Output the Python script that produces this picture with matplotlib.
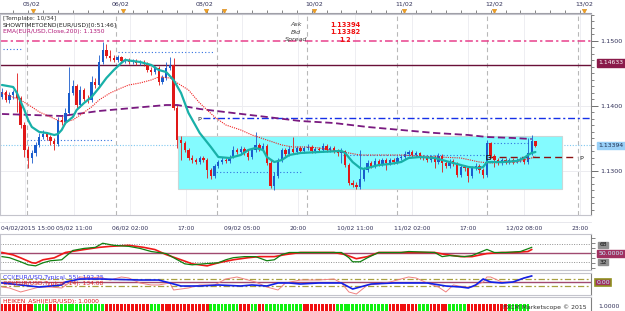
import numpy as np
import matplotlib
matplotlib.use("Agg")
import matplotlib.pyplot as plt
from matplotlib.patches import Rectangle

W, H = 625, 311

# ---- price candles (hourly EUR/USD) ----
first_open = 1.14138
closes = [1.14215, 1.14092, 1.14169, 1.14215, 1.14123, 1.13708, 1.13323, 1.13200, 1.13277, 1.13400,
          1.13523, 1.13569, 1.13523, 1.13462, 1.13415, 1.13785, 1.13754, 1.13892, 1.14200, 1.14308,
          1.14015, 1.14246, 1.14108, 1.14092, 1.14369, 1.14323, 1.14677, 1.14862, 1.14769, 1.14738,
          1.14708, 1.14754, 1.14692, 1.14708, 1.14677, 1.14692, 1.14662, 1.14677, 1.14646, 1.14554,
          1.14523, 1.14585, 1.14369, 1.14431, 1.14585, 1.14631, 1.13969, 1.13477, 1.13431, 1.13323,
          1.13200, 1.13169, 1.13138, 1.13200, 1.13169, 1.13015, 1.12923, 1.13077, 1.13138, 1.13169,
          1.13154, 1.13215, 1.13323, 1.13292, 1.13338, 1.13277, 1.13215, 1.13323, 1.13400, 1.13338,
          1.13385, 1.13123, 1.12769, 1.12923, 1.13169, 1.13323, 1.13262, 1.13338, 1.13292, 1.13354,
          1.13308, 1.13354, 1.13369, 1.13308, 1.13338, 1.13323, 1.13385, 1.13323, 1.13354, 1.13308,
          1.13277, 1.13308, 1.13092, 1.12815, 1.12785, 1.12754, 1.12877, 1.13015, 1.13123, 1.13077,
          1.13154, 1.13108, 1.13169, 1.13123, 1.13169, 1.13138, 1.13200, 1.13215, 1.13262, 1.13292,
          1.13246, 1.13277, 1.13215, 1.13200, 1.13169, 1.13215, 1.13138, 1.13231, 1.13123, 1.13077,
          1.13154, 1.13108, 1.12938, 1.13062, 1.13046, 1.12923, 1.13046, 1.13077, 1.13015, 1.12938,
          1.13431, 1.13231, 1.13169, 1.13123, 1.13169, 1.13138, 1.13169, 1.13138, 1.13169, 1.13185,
          1.13138, 1.13277, 1.13462, 1.13392]
highs = [1.14277, 1.14246, 1.14215, 1.14246, 1.14508, 1.14154, 1.13754, 1.13385, 1.13323, 1.13446,
         1.13585, 1.13631, 1.13600, 1.13554, 1.13508, 1.13831, 1.13846, 1.13969, 1.14600, 1.14400,
         1.14338, 1.14308, 1.14277, 1.14169, 1.14462, 1.14431, 1.14785, 1.14985, 1.14954, 1.14862,
         1.14785, 1.14785, 1.14769, 1.14738, 1.14738, 1.14723, 1.14723, 1.14708, 1.14708, 1.14677,
         1.14600, 1.14615, 1.14615, 1.14477, 1.14677, 1.14754, 1.14738, 1.14015, 1.13538, 1.13462,
         1.13354, 1.13246, 1.13200, 1.13231, 1.13231, 1.13200, 1.13046, 1.13108, 1.13169, 1.13215,
         1.13200, 1.13246, 1.13385, 1.13354, 1.13385, 1.13369, 1.13323, 1.13354, 1.13600, 1.13431,
         1.13431, 1.13415, 1.13169, 1.12985, 1.13200, 1.13354, 1.13354, 1.13385, 1.13523, 1.13385,
         1.13385, 1.13385, 1.13415, 1.13400, 1.13369, 1.13369, 1.13431, 1.13415, 1.13385, 1.13385,
         1.13338, 1.13354, 1.13323, 1.13123, 1.12862, 1.12831, 1.13323, 1.13062, 1.13169, 1.13154,
         1.13200, 1.13185, 1.13200, 1.13200, 1.13200, 1.13200, 1.13231, 1.13246, 1.13308, 1.13323,
         1.13323, 1.13308, 1.13292, 1.13246, 1.13231, 1.13246, 1.13246, 1.13277, 1.13262, 1.13154,
         1.13185, 1.13185, 1.13138, 1.13092, 1.13092, 1.13077, 1.13077, 1.13123, 1.13108, 1.13046,
         1.13477, 1.13446, 1.13262, 1.13200, 1.13200, 1.13200, 1.13200, 1.13200, 1.13200, 1.13215,
         1.13215, 1.13508, 1.13554, 1.13462]
lows = [1.14108, 1.14062, 1.14046, 1.14108, 1.13908, 1.13662, 1.13215, 1.13046, 1.13123, 1.13231,
        1.13369, 1.13492, 1.13477, 1.13400, 1.13323, 1.13385, 1.13708, 1.13723, 1.13862, 1.14169,
        1.13969, 1.13985, 1.14077, 1.14046, 1.14062, 1.14277, 1.14292, 1.14646, 1.14738, 1.14692,
        1.14677, 1.14677, 1.14662, 1.14662, 1.14646, 1.14646, 1.14631, 1.14631, 1.14615, 1.14523,
        1.14477, 1.14492, 1.14323, 1.14338, 1.14400, 1.14554, 1.13938, 1.13354, 1.13169, 1.13292,
        1.13169, 1.13123, 1.13108, 1.13108, 1.13138, 1.12892, 1.12877, 1.12892, 1.13046, 1.13108,
        1.13123, 1.13123, 1.13200, 1.13262, 1.13262, 1.13246, 1.13169, 1.13185, 1.13292, 1.13308,
        1.13308, 1.13092, 1.12738, 1.12708, 1.12892, 1.13138, 1.13231, 1.13231, 1.13262, 1.13262,
        1.13277, 1.13277, 1.13323, 1.13277, 1.13277, 1.13292, 1.13292, 1.13292, 1.13292, 1.13277,
        1.13231, 1.13123, 1.13062, 1.12785, 1.12754, 1.12723, 1.12723, 1.12846, 1.12985, 1.13046,
        1.13046, 1.13077, 1.13077, 1.13015, 1.13092, 1.13108, 1.13108, 1.13169, 1.13185, 1.13231,
        1.13215, 1.13215, 1.13185, 1.13169, 1.13138, 1.13138, 1.13046, 1.13108, 1.12985, 1.13046,
        1.13046, 1.13077, 1.12908, 1.12908, 1.13000, 1.12831, 1.12892, 1.13015, 1.12969, 1.12892,
        1.12908, 1.13200, 1.13062, 1.13092, 1.13092, 1.13108, 1.13108, 1.13108, 1.13123, 1.13138,
        1.13108, 1.13108, 1.13246, 1.13369]

# ---- moving averages (bar index, price) ----
teal_idx = [0, 3, 4, 6, 7, 8, 10, 12, 14, 15, 16, 17, 19, 20, 22, 24, 26, 28, 30, 32, 33, 37, 40, 42,
            44, 46, 48, 50, 53, 56, 58, 61, 64, 66, 68, 70, 71, 73, 75, 77, 80, 85, 91, 92, 94, 96, 97,
            99, 101, 104, 107, 109, 112, 116, 118, 121, 123, 125, 128, 129, 130, 134, 138, 140, 141,
            142, 143]
teal_val = [1.14323, 1.14292, 1.14200, 1.13938, 1.13785, 1.13677, 1.13600, 1.13585, 1.13554, 1.13569,
            1.13631, 1.13738, 1.13831, 1.13938, 1.14046, 1.14138, 1.14277, 1.14431, 1.14554, 1.14662,
            1.14708, 1.14677, 1.14631, 1.14554, 1.14523, 1.14400, 1.14200, 1.13892, 1.13585, 1.13369,
            1.13215, 1.13200, 1.13246, 1.13323, 1.13354, 1.13323, 1.13215, 1.13138, 1.13169, 1.13246,
            1.13277, 1.13292, 1.13308, 1.13277, 1.13138, 1.13046, 1.13031, 1.13062, 1.13092, 1.13108,
            1.13138, 1.13200, 1.13215, 1.13200, 1.13169, 1.13123, 1.13092, 1.13062, 1.13046, 1.13062,
            1.13138, 1.13138, 1.13154, 1.13200, 1.13246, 1.13277, 1.13292]
red_idx = [0, 5, 8, 10, 13, 16, 17, 19, 21, 24, 26, 29, 32, 34, 37, 40, 42, 45, 47, 50, 53, 57, 60,
           64, 67, 71, 75, 78, 82, 85, 91, 93, 96, 107, 112, 117, 123, 128, 131, 138, 142, 143]
red_val = [1.14200, 1.14092, 1.13985, 1.13908, 1.13831, 1.13754, 1.13754, 1.13785, 1.13862, 1.13985,
           1.14092, 1.14200, 1.14277, 1.14323, 1.14354, 1.14400, 1.14446, 1.14431, 1.14354, 1.14246,
           1.14046, 1.13831, 1.13708, 1.13631, 1.13554, 1.13477, 1.13400, 1.13369, 1.13369, 1.13354,
           1.13292, 1.13277, 1.13246, 1.13246, 1.13231, 1.13215, 1.13200, 1.13138, 1.13123, 1.13138,
           1.13200, 1.13231]
ema200_idx = [0, 16, 26, 35, 44, 47, 53, 62, 71, 80, 89, 98, 107, 116, 125, 130, 137, 142]
ema200_val = [1.13877, 1.13846, 1.13923, 1.13969, 1.14015, 1.14015, 1.13954, 1.13892, 1.13831, 1.13769,
              1.13738, 1.13677, 1.13631, 1.13585, 1.13554, 1.13523, 1.13508, 1.13492]

# ---- levels ----
level_pink = 1.1500
level_maroon = 1.14633
last_price = 1.13394
pivot_blue = 1.13815
pivot_blue_start = 54
pivot_red = 1.13215
pivot_red_span = (130.3, 154.2)
zone = (47.2, 150.0, 1.12723, 1.13538)  # start bar, end bar, low, high
dotted_levels = [(1.14877, 0.3, 5.6), (1.14831, 31.1, 56.6), (1.13477, 6.7, 29.8),
                 (1.12985, 56.6, 80.7), (1.13246, 91.4, 130.0), (1.13431, 130.0, 141.0)]
day_lines = [6.7, 30.6, 57.7, 81.8, 105.9, 130.1, 154.4]

top_labels = ['05/02', '06/02', '08/02', '10/02', '11/02', '12/02', '13/02']
top_label_pos = [7.8, 31.9, 54.4, 83.6, 107.8, 131.9, 156.0]
top_marks = [8.3, 32.4, 54.7, 59.5, 83.6, 107.8, 131.9, 156.0]
bottom_labels = ['04/02/2015 15:00', '05/02 11:00', '06/02 02:00', '17:00', '09/02 05:00', '20:00',
                 '10/02 11:00', '11/02 02:00', '17:00', '12/02 08:00', '23:00']
bottom_label_pos = [6.2, 19.3, 34.3, 49.3, 64.3, 79.4, 94.6, 109.9, 124.9, 139.9, 154.9]

# ---- oscillator panel ----
rsi_red_idx = [0, 3, 5, 8, 9, 11, 14, 17, 22, 26, 29, 34, 38, 41, 44, 48, 51, 55, 58, 62, 66, 69, 73,
               76, 80, 89, 92, 95, 98, 101, 107, 116, 119, 123, 126, 130, 134, 137, 141, 142]
rsi_red = [51, 46, 40, 30, 29, 36, 40, 51, 57, 61.5, 63.6, 65.7, 61.5, 57, 46.7, 36, 27.7, 23.5, 29.8,
           36, 40.3, 42.5, 42.5, 46.7, 51, 51, 46.7, 38.2, 42.5, 51, 51, 51, 46.7, 42.5, 42.5, 48.8, 51,
           51, 53, 57]
rsi_green_idx = [0, 2, 5, 7, 9, 11, 13, 16, 17, 19, 22, 25, 27, 30, 34, 37, 40, 44, 46, 49, 51, 54,
                 58, 60, 62, 65, 68, 71, 73, 75, 77, 80, 89, 91, 93, 94, 96, 98, 101, 107, 109, 116,
                 118, 120, 124, 126, 128, 130, 132, 135, 139, 142]
rsi_green = [42.5, 40.3, 31.9, 25.6, 23.5, 29.8, 34, 36, 42.5, 55.2, 59.4, 61.5, 70, 65.7, 63.6, 59.4,
             53, 48.8, 40.3, 27.7, 25.6, 27.7, 29.8, 36, 40.3, 42.5, 42.5, 34, 36, 46.7, 51, 51, 51,
             51, 40.3, 31.9, 31.9, 40.3, 51, 51, 53, 51, 42.5, 44.6, 42.5, 44.6, 51, 57.3, 51, 51, 53,
             61.5]

# ---- CCI panel ----
cci55_idx = [0, 5, 10, 16, 17, 21, 26, 37, 42, 45, 48, 53, 58, 64, 67, 71, 74, 77, 80, 85, 91, 93,
             94, 96, 99, 105, 109, 114, 119, 123, 125, 127, 129, 131, 134, 137, 140, 142]
cci55 = [-14, -71, -129, -71, 14, 100, 100, 71, 71, -14, -100, -100, -71, -100, -71, -100, -14, -14,
         -43, -14, -14, -129, -186, -129, -43, -14, -14, -14, -100, -129, -157, -71, 100, 14, -14, 14,
         129, 186]
cci14_idx = [0, 2, 5, 7, 10, 13, 16, 18, 21, 24, 26, 29, 32, 34, 37, 40, 42, 45, 46, 50, 53, 57, 60,
             63, 66, 68, 71, 74, 76, 80, 85, 89, 91, 93, 95, 96, 98, 101, 104, 107, 109, 111, 114,
             117, 119, 121, 124, 126, 129, 130, 131, 134, 137, 140, 142]
cci14 = [-129, -157, -271, -214, -129, -129, -157, -14, 157, 129, 157, 71, 157, 129, -14, -71, -71,
         -14, -214, -157, -71, -71, 100, 157, 71, 14, -129, -214, -14, 71, 71, 100, -14, -271, -329,
         -243, -71, -43, 14, 100, 157, 129, -14, -129, -271, -71, -129, -129, 14, 157, 157, 14, 14,
         129, 186]

# ---- Heiken Ashi colour per bar (G = up, R = down) ----
ha_colors = ("RRRRRRRRRGGGGRRGGGGGGGGGGGGGRRRRRRRRRRRRGGGRRRRRRRRRRRRRGGGGGGGGRRRGGRRGGGGGGGGG"
             "GRRRRRRRRRGGGGGGGGGGGGGGRRRRRRRRGGGRRRRRGGGGGRRRRRRRRRRRGGGGGG")

# ------------------------------------------------------------------
plt.rcParams['font.family'] = ['DejaVu Sans']
fig = plt.figure(figsize=(W / 100, H / 100), dpi=100)
fig.patch.set_facecolor('white')

XL = ((0 - 2) / 3.73, (591 - 2) / 3.73)
FRAME = '#c4c4cc'
AXTXT = '#303058'


def add_ax(x0, y0, x1, y1):
    a = fig.add_axes([x0 / W, 1 - y1 / H, (x1 - x0) / W, (y1 - y0) / H])
    a.set_xlim(*XL)
    a.set_xticks([])
    for s in a.spines.values():
        s.set_color(FRAME)
        s.set_linewidth(0.8)
    return a


def ftext(x, y, s, **kw):
    kw.setdefault('fontsize', 4.3)
    kw.setdefault('va', 'center')
    fig.text(x / W, 1 - y / H, s, **kw)


# ---------------- main price panel ----------------
ax = add_ax(0, 14, 591, 215)
ax.set_ylim(1.12323, 1.15415)
ax.yaxis.tick_right()
ax.set_yticks([1.13, 1.14, 1.15])
ax.set_yticklabels(['1.1300', '1.1400', '1.1500'])
ax.set_yticks(np.arange(1.124, 1.1545, 0.001), minor=True)
ax.tick_params(axis='y', which='major', length=5, width=0.7, colors='#707070', labelsize=4.6,
               labelcolor=AXTXT, pad=1.5)
ax.tick_params(axis='y', which='minor', length=2.5, width=0.6, colors='#707070')
ax.spines['right'].set_color('#808080')

for p in [1.13, 1.14]:
    ax.axhline(p, color='#ececf0', lw=0.7, zorder=0)
for p in bottom_label_pos:
    ax.axvline(p, color='#eeeef2', lw=0.7, zorder=0)
for d in day_lines:
    ax.axvline(d, color='#b8b8b8', lw=0.8, ls=(0, (4, 3)), zorder=0.5)

ax.axhline(last_price, color='#7fc8f0', lw=0.8, ls=(0, (1, 1.5)), zorder=0.6)
ax.add_patch(Rectangle((zone[0], zone[2]), zone[1] - zone[0], zone[3] - zone[2],
                       facecolor='#84fbff', edgecolor='#c8d8d8', lw=0.8, zorder=1))

ax.axhline(level_pink, color='#e8408c', lw=1.1, ls=(0, (5, 2, 1.5, 2)), zorder=2)
ax.axhline(level_maroon, color='#6a1038', lw=1.0, zorder=2)
ax.hlines(pivot_blue, pivot_blue_start, XL[1], color='#1530e8', lw=1.0, ls=(0, (5, 2, 1.5, 2)), zorder=2)
ax.text(pivot_blue_start - 1.5, pivot_blue - 0.0003, 'P', fontsize=4.6, color='#202020', va='center')
ax.hlines(pivot_red, pivot_red_span[0], pivot_red_span[1], color='#8a1010', lw=1.0,
          ls=(0, (5, 3)), zorder=2)
ax.text(pivot_red_span[1] + 0.5, pivot_red - 0.0003, 'P', fontsize=4.6, color='#202020', va='center')
ax.plot([pivot_red_span[0]], [pivot_red], marker='s', ms=2.2, mfc='none', mec='#202020', mew=0.6,
        zorder=5)
for lev, a0, a1 in dotted_levels:
    ax.hlines(lev, a0, a1, color='#3070e0', lw=0.8, ls=(0, (1, 2)), zorder=2)

# candles
x = np.arange(len(closes))
opens = np.array([first_open] + closes[:-1])
c = np.array(closes)
up = c >= opens
cols = np.where(up, '#1a5ccc', '#e01818')
ax.vlines(x, lows, highs, color=cols, lw=0.6, zorder=3)
body = np.maximum(np.abs(c - opens), 0.00004)
ax.bar(x, body, bottom=np.minimum(c, opens), width=0.62, color=cols, lw=0, zorder=3)

ax.plot(ema200_idx, ema200_val, color='#7a1a80', lw=1.3, ls=(0, (4, 2)), zorder=4)
ax.plot(red_idx, red_val, color='#f02020', lw=0.8, ls=(0, (1, 1)), zorder=4)
ax.plot(teal_idx, teal_val, color='#18b0a8', lw=1.6, zorder=4, solid_capstyle='round')

# price markers on axis
ftext(611, 63, '1.14633', color='white', ha='center', fontsize=4.4,
      bbox=dict(boxstyle='square,pad=0.2', fc='#8a1a4a', ec='#8a1a4a'))
ftext(611, 145.5, '1.13394', color='#203050', ha='center', fontsize=4.4,
      bbox=dict(boxstyle='square,pad=0.2', fc='#98d0f8', ec='#98d0f8'))

# overlay texts
ftext(3, 18.5, '[Template: 10/34]', color='#303030')
ftext(3, 25, 'SHOWTIMETOEND(EUR/USD)[0:51:46]', color='#202020')
ftext(3, 32, 'EMA(EUR/USD,Close,200): 1.1350', color='#b01878')
for yy, lab, val in [(25, 'Ask', '1.13394'), (32.5, 'Bid', '1.13382'), (40, 'Spread', '1.2')]:
    ftext(296, yy, lab, color='#404040', ha='center', style='italic', fontsize=4.6)
    ftext(345, yy, val, color='#f01010', ha='center', fontweight='bold', fontsize=4.8)

# ---------------- top date strip ----------------
axt = add_ax(0, 0, 591, 13)
axt.set_ylim(0, 13)
axt.set_yticks([])
for s in ['top', 'left', 'right']:
    axt.spines[s].set_visible(False)
axt.spines['bottom'].set_color('#a0a0a8')
axt.vlines(np.arange(3, 158, 4), 0, 3, color='#707070', lw=0.6)
axt.plot(top_marks, [2.2] * len(top_marks), marker='v', ls='none', ms=3.2, color='#f0a020', mec='#d08010',
         mew=0.3)
for p, lab in zip(top_label_pos, top_labels):
    axt.text(p, 8.5, lab, fontsize=4.5, color=AXTXT, ha='center', va='center')

# bottom time labels
for p, lab in zip(bottom_label_pos, bottom_labels):
    px = 2 + 3.73 * p
    if lab.startswith('04/02'):
        ftext(1, 228, lab, color=AXTXT, ha='left')
    else:
        ftext(px, 228, lab, color=AXTXT, ha='center')
fig.add_artist(plt.Line2D([0, 591 / W], [1 - 222 / H] * 2, color='#e4e4ea', lw=0.6))

# ---------------- oscillator panel ----------------
ax2 = add_ax(0, 234, 591, 270)
ax2.set_ylim(15, 89)
ax2.yaxis.tick_right()
ax2.set_yticks([20, 30, 40, 50, 60, 70, 80])
ax2.set_yticklabels([])
ax2.tick_params(axis='y', length=3, width=0.6, colors='#707070')
ax2.spines['right'].set_color('#808080')
ax2.axhline(68, color='#909090', lw=0.7, ls=(0, (1, 1.5)))
ax2.axhline(32, color='#909090', lw=0.7, ls=(0, (1, 1.5)))
ax2.axhline(50, color='#a04a70', lw=1.0)
ax2.plot(rsi_red_idx, rsi_red, color='#f01818', lw=1.2, zorder=3)
ax2.plot(rsi_green_idx, rsi_green, color='#108010', lw=0.9, zorder=4)
ftext(603, 245, '68', color='#101010', ha='center', fontsize=4.3,
      bbox=dict(boxstyle='square,pad=0.15', fc='#909090', ec='#909090'))
ftext(611, 253.5, '50.0000', color='#c8f4ff', ha='center', fontsize=4.4,
      bbox=dict(boxstyle='square,pad=0.15', fc='#a03060', ec='#a03060'))
ftext(603, 262, '32', color='#101010', ha='center', fontsize=4.3,
      bbox=dict(boxstyle='square,pad=0.15', fc='#909090', ec='#909090'))

# ---------------- CCI panel ----------------
ax3 = add_ax(0, 273, 591, 295)
ax3.set_ylim(-357, 271)
ax3.set_yticks([])
ax3.spines['right'].set_color('#808080')
ax3.axhline(100, color='#a8a040', lw=0.9, ls=(0, (5, 2, 1.5, 2)))
ax3.axhline(-100, color='#a8a040', lw=0.9, ls=(0, (5, 2, 1.5, 2)))
ax3.axhline(0, color='#a04a70', lw=1.0)
ax3.plot(cci14_idx, cci14, color='#f08080', lw=0.7, zorder=3)
ax3.plot(cci55_idx, cci55, color='#1020e8', lw=1.2, zorder=4)
ftext(3, 277, 'CCI(EUR/USD,Typical, 55): 192.25', color='#3030f0')
ftext(3, 283, 'CCI(EUR/USD,Typical, 14): 134.08', color='#e02020')
ftext(603, 282.5, '0.00', color='#c8f4ff', ha='center', fontsize=4.4,
      bbox=dict(boxstyle='square,pad=0.2', fc='#a03060', ec='#909020', lw=1.2))

# ---------------- Heiken Ashi strip ----------------
ax4 = add_ax(0, 297, 591, 312)
ax4.set_ylim(0, 1.85)
ax4.set_yticks([])
ax4.spines['right'].set_color('#808080')
ha_col = ['#10f010' if ch == 'G' else '#f01010' for ch in ha_colors]
ax4.bar(np.arange(len(ha_col)), 1.0, width=0.75, color=ha_col, lw=0)
ftext(3, 301.5, 'HEIKEN_ASHI(EUR/USD): 1.0000', color='#e01010')
ftext(587, 307, 'FXCM Marketscope \u00a9 2015', color='#303030', ha='right', fontsize=4.4)
ftext(598, 306, '1.0000', color=AXTXT, ha='left', fontsize=4.4)

fig.savefig('out.png', dpi=100, facecolor='white')
